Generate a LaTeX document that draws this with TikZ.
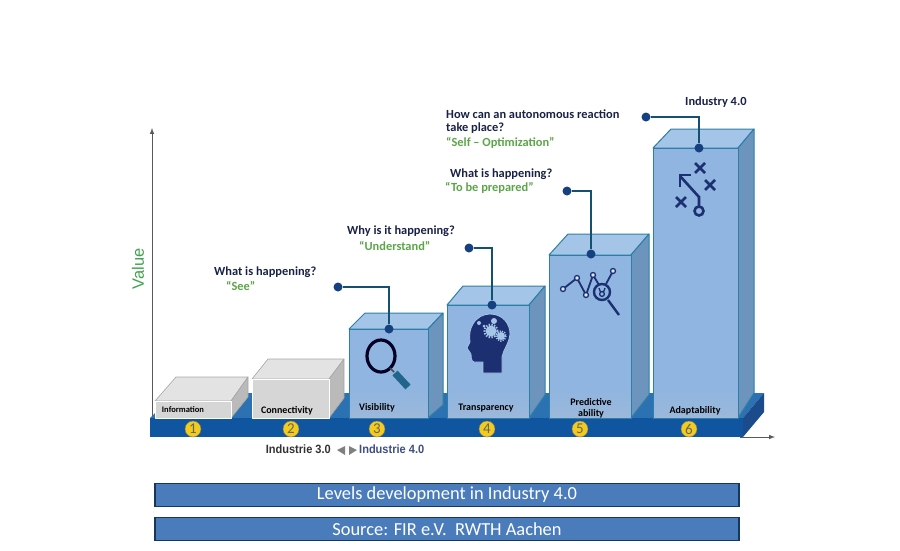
\documentclass[tikz,border=0pt]{standalone}
\usepackage{fontspec}
\setmainfont{Carlito}
\newfontfamily\arialfont{Liberation Sans}
\usepackage{tikz}
\definecolor{frontblue}{HTML}{8FB5E0}
\definecolor{frontlow}{HTML}{9CB8DA}
\definecolor{topblue}{HTML}{A4C4E8}
\definecolor{sideblue}{HTML}{6C94BC}
\definecolor{edgeblue}{HTML}{2C7FA6}
\definecolor{basefront}{HTML}{0F559F}
\definecolor{basetop}{HTML}{2C72B2}
\definecolor{baseside}{HTML}{1B4B8B}
\definecolor{dotblue}{HTML}{16407F}
\definecolor{linkblue}{HTML}{14506F}
\definecolor{navytext}{HTML}{1A2148}
\definecolor{greentext}{HTML}{5BA548}
\definecolor{valuegreen}{HTML}{3FA34D}
\definecolor{iconnavy}{HTML}{1C2F70}
\definecolor{barblue}{HTML}{4A7CBC}
\definecolor{barline}{HTML}{17365D}
\definecolor{numyellow}{HTML}{F2CB1D}
\definecolor{handleteal}{HTML}{22658C}
\tikzset{
  front/.style={draw=edgeblue,line width=1pt,line join=round},
  topface/.style={fill=topblue,draw=edgeblue,line width=1pt,line join=round},
  sideface/.style={fill=sideblue,draw=edgeblue,line width=1pt,line join=round},
  greyfront/.style={fill=black!16,draw=white,line width=1pt,line join=round},
  greytop/.style={fill=black!11,draw=black!35,line width=.6pt,line join=round},
  greyside/.style={fill=black!27,draw=black!35,line width=.6pt,line join=round},
  dotmark/.style={circle,fill=dotblue,inner sep=0pt,minimum size=9pt},
  linkline/.style={draw=linkblue,line width=1.1pt},
  question/.style={inner sep=0pt,text=navytext,font=\bfseries\fontsize{12.4}{14}\selectfont,anchor=west},
  answer/.style={inner sep=0pt,text=greentext,font=\bfseries\fontsize{12.4}{14}\selectfont,anchor=west},
  steplabel/.style={inner sep=0pt,text=black,font=\bfseries\fontsize{10}{11}\selectfont},
  stepnum/.style={circle,fill=numyellow,draw=black!55,line width=.4pt,inner sep=0pt,minimum size=16pt,text=black!60,font=\fontsize{15}{15}\selectfont},
  barbox/.style={fill=barblue,draw=barline,line width=1.2pt,minimum width=584pt,minimum height=23pt,inner sep=0pt,text=white,font=\fontsize{18.4}{20}\selectfont},
  iconline/.style={draw=iconnavy,line width=2.6pt}
}
\begin{document}
\begin{tikzpicture}[x=1pt,y=-1pt]
\useasboundingbox (0,0) rectangle (900,550);
% axes
\draw [black!65,line width=1pt,-latex] (152,425) -- (152,128);
\draw [black!65,line width=1pt,-latex] (740,437) -- (775,437);
\node [rotate=90,text=valuegreen,font=\arialfont\fontsize{16.4}{18}\selectfont,inner sep=0pt] (valuelabel) at (138,269) {Value};
% base
\fill [basetop] (150,418) -- (175,393) -- (764,393) -- (743,418) -- cycle;
\fill [baseside] (743,418) -- (764,393) -- (764,412) -- (743,437) -- cycle;
\fill [basefront] (150,418) rectangle (743,437);
% grey blocks
\foreach \xa/\xb/\yt/\xc/\xd/\yb/\ys in {155/231/401/176/248/377/397,252/329/379/268/344/359/398}{
  \draw [greytop] (\xa,\yt) -- (\xc,\yb) -- (\xd,\yb) -- (\xb,\yt) -- cycle;
  \draw [greyside] (\xb,\yt) -- (\xd,\yb) -- (\xd,\ys) -- (\xb,418) -- cycle;
  \draw [greyfront] (\xa,\yt) rectangle (\xb,418);
}
% blue blocks
\foreach \xa/\xb/\yt/\xc/\xd/\yb/\ys in {349/428/329/365/443/313/405,447/529/305/463/545/286/395,549/631/255/568/649/234/395,653/738/148/671/754/129/393}{
  \draw [topface] (\xa,\yt) -- (\xc,\yb) -- (\xd,\yb) -- (\xb,\yt) -- cycle;
  \draw [sideface] (\xb,\yt) -- (\xd,\yb) -- (\xd,\ys) -- (\xb,418) -- cycle;
  \fill [frontblue] (\xa,\yt) rectangle (\xb,388);
  \shade [top color=frontblue,bottom color=frontlow] (\xa,388) rectangle (\xb,418);
  \draw [front] (\xa,\yt) rectangle (\xb,418);
}
% step names
\node [steplabel,font=\bfseries\fontsize{8.5}{10}\selectfont] (infolabel) at (183,410) {Information};
\node [steplabel] (connlabel) at (287,411) {Connectivity};
\node [steplabel] (vislabel) at (377,408) {Visibility};
\node [steplabel] (translabel) at (486,408) {Transparency};
\node [steplabel] (predlabel) at (591,402) {Predictive};
\node [steplabel] (abilitylabel) at (591,414) {ability};
\node [steplabel] (adaptlabel) at (695,411) {Adaptability};
% numbers
\foreach \nx/\num in {193/1,291/2,377/3,487/4,580/5,689/6}
  \node [stepnum] (num\num) at (\nx,429) {\num};
\node [inner sep=0pt,xscale=.92,text=black!80,font=\arialfont\bfseries\fontsize{12}{13}\selectfont,anchor=east] (ind3) at (331,449) {Industrie 3.0};
\node [inner sep=0pt,xscale=.92,text=iconnavy!85,font=\arialfont\bfseries\fontsize{12}{13}\selectfont,anchor=west] (ind4) at (359,449) {Industrie 4.0};
\fill [black!50] (337,450) -- (345,446) -- (345,455) -- cycle;
\fill [black!50] (357,450) -- (349,446) -- (349,455) -- cycle;
% callouts
\node [dotmark] (dota) at (338,287) {};
\node [dotmark] (dotb) at (389,329) {};
\node [dotmark] (dotc) at (469,248) {};
\node [dotmark] (dotd) at (492,305) {};
\node [dotmark] (dote) at (567,191) {};
\node [dotmark] (dotf) at (591,254) {};
\node [dotmark] (dotg) at (646,117) {};
\node [dotmark] (doth) at (699,148) {};
\draw [linkline] (dota) -| (dotb);
\draw [linkline] (dotc) -| (dotd);
\draw [linkline] (dote) -| (dotf);
\draw [linkline] (dotg) -| (doth);
% texts
\node [question] (qa) at (214,272) {What is happening?};
\node [answer] (aa) at (226,286) {“See”};
\node [question] (qb) at (347,231) {Why is it happening?};
\node [answer] (ab) at (359,246) {“Understand”};
\node [question] (qc) at (450,174) {What is happening?};
\node [answer] (ac) at (445,188) {“To be prepared”};
\node [question] (qd) at (446,114) {How can an autonomous reaction};
\node [question] (qe) at (446,128) {take place?};
\node [answer] (ad) at (446,143) {“Self – Optimization”};
\node [question] (qf) at (685,102) {Industry 4.0};
% magnifier
\draw [black!85!blue,line width=3.2pt] (381,356) ellipse (14 and 16);
\draw [black!70,line width=1.5pt] (390,368) -- (394,372);
\draw [handleteal,line width=7pt] (395,373) -- (408,387);
% head
\draw [fill=iconnavy,draw=topblue,line width=.8pt] (483,373) -- (483,362) -- (474,362) .. controls (471,361) and (471,357) .. (471,354)
  -- (467,348) -- (470,342) .. controls (469,334) and (470,329) .. (473,324)
  .. controls (477,317) and (484,314) .. (490,314) .. controls (503,314) and (510,324) .. (510,334)
  .. controls (509,344) and (503,350) .. (502,357) -- (502,373) -- cycle;
\fill [topblue] (491,331) circle (5.5);
\draw [topblue,line width=2pt,dash pattern=on 1.4pt off 1.4pt] (491,331) circle (6.5);
\fill [topblue] (501,336) circle (4);
\draw [topblue,line width=1.6pt,dash pattern=on 1.2pt off 1.2pt] (501,336) circle (5);
\fill [topblue] (494,321) circle (3);
\fill [topblue] (479,323) circle (2);
\fill [topblue] (484,326) circle (1.5);
% chart with lens
\draw [iconnavy,line width=1.8pt] (563,289) -- (577,278) -- (586,295) -- (593,275) -- (599,285);
\draw [iconnavy,line width=1.8pt] (606,284) -- (613,271);
\foreach \cx/\cy in {563/289,577/278,586/295,593/275,613/271}
  \draw [iconnavy,fill=white!60!topblue,line width=1.3pt] (\cx,\cy) circle (2.5);
\draw [iconnavy,line width=2.4pt] (602,292) circle (8);
\draw [iconnavy,line width=1.3pt] (602,294) circle (2.4);
\draw [iconnavy,line width=1.3pt] (599,288) -- (600.5,292) (605,288) -- (603.5,292);
\draw [iconnavy,line width=2.4pt] (608,300) -- (619,315);
% play diagram
\foreach \cx/\cy in {700/168,710/185,681/202}{
  \draw [iconline] (\cx-5,\cy-5) -- (\cx+5,\cy+5);
  \draw [iconline] (\cx-5,\cy+5) -- (\cx+5,\cy-5);
}
\draw [iconline] (699,211) circle (4.5);
\draw [iconline] (699,206) -- (699,197) -- (680,176);
\draw [iconline] (680,187) -- (680,175) -- (691,175);
% bars
\node [barbox] (bara) at (447,495) {Levels development in Industry 4.0};
\node [barbox] (barb) at (447,529) {Source: FIR e.V.\ \ RWTH Aachen};
\end{tikzpicture}
\end{document}
